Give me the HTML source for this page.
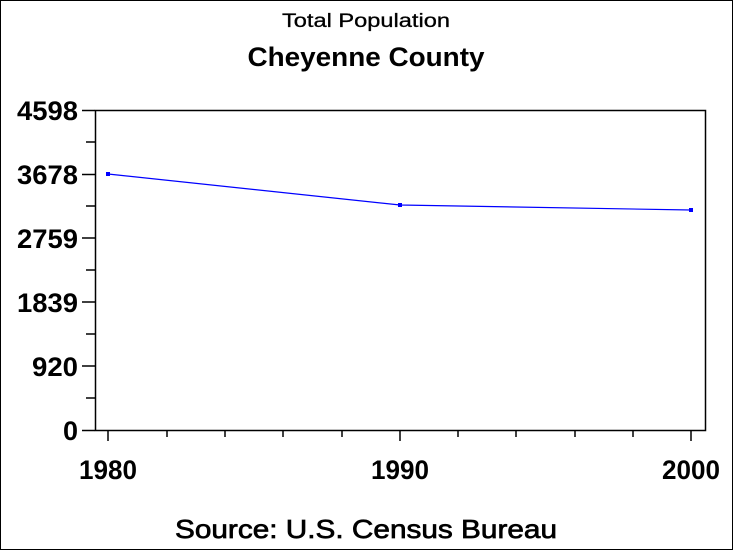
<!DOCTYPE html>
<html><head><style>body{margin:0;background:#fff}svg{display:block}</style></head><body>
<svg width="733" height="550" xmlns="http://www.w3.org/2000/svg" font-family="Liberation Sans, sans-serif">
<rect x="0.5" y="0.5" width="732" height="549" fill="#fff" stroke="#000"/>
<text x="366" y="27" font-size="19" text-anchor="middle" textLength="168" lengthAdjust="spacingAndGlyphs" stroke="#000" stroke-width="0.3">Total Population</text>
<text x="366" y="66" font-size="27" font-weight="bold" text-anchor="middle" textLength="237" lengthAdjust="spacingAndGlyphs">Cheyenne County</text>
<rect x="95.5" y="110.5" width="610" height="320" fill="none" stroke="#000" stroke-width="1.5"/>
<g stroke="#000" stroke-width="1.5">
<line x1="82" y1="110.5" x2="95" y2="110.5"/><line x1="82" y1="174.5" x2="95" y2="174.5"/><line x1="82" y1="238" x2="95" y2="238"/><line x1="82" y1="302" x2="95" y2="302"/><line x1="82" y1="366" x2="95" y2="366"/><line x1="82" y1="430.5" x2="95" y2="430.5"/>
<line x1="86" y1="142" x2="95" y2="142"/><line x1="86" y1="206" x2="95" y2="206"/><line x1="86" y1="270" x2="95" y2="270"/><line x1="86" y1="334" x2="95" y2="334"/><line x1="86" y1="398" x2="95" y2="398"/>
<line x1="108" y1="430" x2="108" y2="441"/><line x1="400" y1="430" x2="400" y2="441"/><line x1="691" y1="430" x2="691" y2="441"/>
<line x1="167" y1="430" x2="167" y2="437"/><line x1="225" y1="430" x2="225" y2="437"/><line x1="283" y1="430" x2="283" y2="437"/><line x1="342" y1="430" x2="342" y2="437"/>
<line x1="458" y1="430" x2="458" y2="437"/><line x1="516" y1="430" x2="516" y2="437"/><line x1="575" y1="430" x2="575" y2="437"/><line x1="633" y1="430" x2="633" y2="437"/>
</g>
<g font-size="27" font-weight="bold" text-anchor="end">
<text x="78" y="120" textLength="61" lengthAdjust="spacingAndGlyphs">4598</text>
<text x="78" y="184" textLength="61" lengthAdjust="spacingAndGlyphs">3678</text>
<text x="78" y="248" textLength="61" lengthAdjust="spacingAndGlyphs">2759</text>
<text x="78" y="312" textLength="61" lengthAdjust="spacingAndGlyphs">1839</text>
<text x="78" y="376" textLength="46" lengthAdjust="spacingAndGlyphs">920</text>
<text x="78" y="440">0</text>
</g>
<g font-size="27" font-weight="bold" text-anchor="middle">
<text x="108" y="479" textLength="58" lengthAdjust="spacingAndGlyphs">1980</text>
<text x="400" y="479" textLength="58" lengthAdjust="spacingAndGlyphs">1990</text>
<text x="691" y="479" textLength="58" lengthAdjust="spacingAndGlyphs">2000</text>
</g>
<text x="366" y="538" font-size="26" text-anchor="middle" textLength="382" lengthAdjust="spacingAndGlyphs" stroke="#000" stroke-width="0.7">Source: U.S. Census Bureau</text>
<polyline points="108,174 400,205 691,210" fill="none" stroke="#0000ff" stroke-width="1.2"/>
<g fill="#0000ff"><rect x="106" y="172" width="4" height="4"/><rect x="398" y="203" width="4" height="4"/><rect x="689" y="208" width="4" height="4"/></g>
</svg>
</body></html>
